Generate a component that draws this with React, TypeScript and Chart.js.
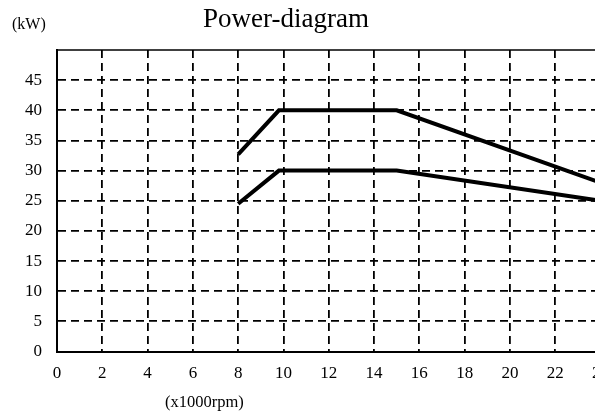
import React, { useEffect, useRef } from "react";
import { Chart, registerables } from "chart.js";

Chart.register(...registerables);

// Data
const rpmUpper = [8, 9.8, 15, 24];
const powerUpper = [32.7, 40, 40, 28];
const rpmLower = [8, 9.8, 15, 24];
const powerLower = [24.5, 30, 30, 25];

const xTicks = { min: 0, max: 24, step: 2 };
const yTicks = { min: 0, max: 50, step: 5 };

const titleText = "Power-diagram";
const yUnitText = "(kW)";
const xUnitText = "(x1000rpm)";

const FONT = "'Liberation Serif', 'Times New Roman', serif";

export default function App() {
  const ref = useRef<HTMLCanvasElement | null>(null);

  useEffect(() => {
    if (!ref.current) return;
    const textPlugin = {
      id: "texts",
      afterDraw(chart: any) {
        const { ctx, chartArea } = chart;
        ctx.save();
        // solid top border
        ctx.strokeStyle = "#000";
        ctx.lineWidth = 1.5;
        ctx.beginPath();
        ctx.moveTo(chartArea.left, chartArea.top);
        ctx.lineTo(chartArea.right, chartArea.top);
        ctx.stroke();
        ctx.fillStyle = "#000";
        ctx.textBaseline = "alphabetic";
        ctx.textAlign = "center";
        ctx.font = `27px ${FONT}`;
        ctx.fillText(titleText, 286, 27);
        ctx.textAlign = "left";
        ctx.font = `16px ${FONT}`;
        ctx.fillText(yUnitText, 12, 29);
        ctx.font = `16.5px ${FONT}`;
        ctx.fillText(xUnitText, 165, 407);
        ctx.restore();
      },
    };

    const chart = new Chart(ref.current, {
      type: "line",
      data: {
        datasets: [
          {
            data: rpmUpper.map((x, i) => ({ x, y: powerUpper[i] })),
            borderColor: "#000",
            borderWidth: 4,
            pointRadius: 0,
            fill: false,
            tension: 0,
          },
          {
            data: rpmLower.map((x, i) => ({ x, y: powerLower[i] })),
            borderColor: "#000",
            borderWidth: 4,
            pointRadius: 0,
            fill: false,
            tension: 0,
          },
        ],
      },
      options: {
        animation: false,
        responsive: false,
        devicePixelRatio: 1,
        layout: { padding: { top: 50, left: 0, right: 0, bottom: 0 } },
        plugins: {
          legend: { display: false },
          title: { display: false },
          tooltip: { enabled: false },
        },
        scales: {
          x: {
            type: "linear",
            min: xTicks.min,
            max: xTicks.max,
            ticks: {
              stepSize: xTicks.step,
              color: "#000",
              font: { family: FONT, size: 17 },
              padding: 12,
              maxRotation: 0,
              autoSkip: false,
            },
            grid: {
              drawTicks: false,
              color: (c: any) => (c.tick && c.tick.value === xTicks.min ? "rgba(0,0,0,0)" : "#000"),
              lineWidth: 1.8,
            },
            border: { display: true, color: "#000", width: 2, dash: [8, 5] },
            afterFit: (s: any) => {
              s.height = 61.5;
            },
          },
          y: {
            type: "linear",
            min: yTicks.min,
            max: yTicks.max,
            ticks: {
              stepSize: yTicks.step,
              color: "#000",
              font: { family: FONT, size: 17 },
              padding: 15,
              callback: (v: any) => (v === yTicks.max ? "" : String(v)),
            },
            grid: {
              drawTicks: false,
              color: (c: any) =>
                c.tick && (c.tick.value === yTicks.max || c.tick.value === yTicks.min)
                  ? "rgba(0,0,0,0)"
                  : "#000",
              lineWidth: 1.8,
            },
            border: { display: true, color: "#000", width: 2, dash: [8, 5] },
            afterFit: (s: any) => {
              s.width = 57;
            },
          },
        },
      },
      plugins: [textPlugin],
    });
    return () => chart.destroy();
  }, []);

  return (
    <div
      style={{
        position: "fixed",
        left: 0,
        top: 0,
        width: 595,
        height: 413,
        overflow: "hidden",
        background: "#fff",
      }}
    >
      <canvas ref={ref} width={621} height={413} style={{ width: 621, height: 413, display: "block" }} />
    </div>
  );
}
